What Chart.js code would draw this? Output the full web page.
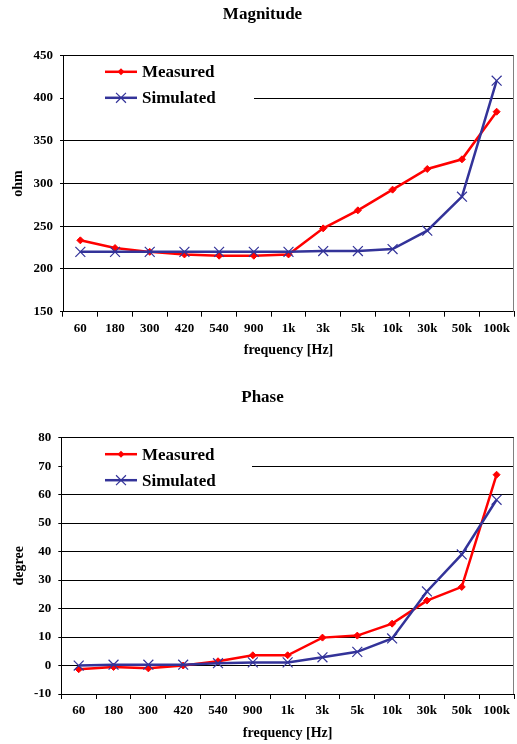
<!DOCTYPE html>
<html>
<head>
<meta charset="utf-8">
<script src="https://cdn.jsdelivr.net/npm/chart.js@4.4.0/dist/chart.umd.min.js"></script>
<style>
body{margin:0;background:#fff;}
canvas{display:block;}
</style>
</head>
<body>
<canvas id="modulo" width="517" height="372"></canvas>
<canvas id="fase" width="517" height="372"></canvas>
<script>
var frequenze=["60","180","300","420","540","900","1k","3k","5k","10k","30k","50k","100k"];
var moduloMisurato=[233.5,224.5,220,217,215.5,215.5,217,247.5,268.6,292.8,317,328.3,384];
var moduloSimulato=[220,220,220,220,220,220,220,221,221,223.3,244.8,284.6,420.3];
var faseMisurata=[-1.3,-0.5,-1,0,1.5,3.6,3.6,9.8,10.5,14.7,22.8,27.6,67];
var faseSimulata=[0,0.3,0.3,0.3,0.8,1.1,1.1,2.9,4.8,9.5,26,39,58.2];

var FONT="'Liberation Serif','Times New Roman',serif";
Chart.defaults.color="#000";

// legenda dentro l'area del grafico, con sfondo bianco che copre la griglia
var legendaInterna={
  id:"legendaInterna",
  beforeDatasetsDraw:function(chart,args,opz){
    var ctx=chart.ctx, a=chart.chartArea;
    ctx.save();
    ctx.fillStyle="#fff";
    ctx.fillRect(a.left+1,a.top+1,opz.fine-a.left-1,55);
    var ds=chart.data.datasets;
    for(var i=0;i<ds.length;i++){
      var y=a.top+16.5+i*26;
      var x=121;
      ctx.strokeStyle=ds[i].borderColor;
      ctx.lineWidth=2.5;
      ctx.beginPath();ctx.moveTo(105,y);ctx.lineTo(137,y);ctx.stroke();
      if(ds[i].pointStyle=="rectRot"){
        var r=ds[i].pointRadius;
        ctx.fillStyle=ds[i].backgroundColor;
        ctx.beginPath();
        ctx.moveTo(x,y-r);ctx.lineTo(x+r,y);ctx.lineTo(x,y+r);ctx.lineTo(x-r,y);
        ctx.closePath();ctx.fill();
      }else{
        var o=ds[i].pointRadius*0.707;
        ctx.lineWidth=ds[i].pointBorderWidth;
        ctx.beginPath();
        ctx.moveTo(x-o,y-o);ctx.lineTo(x+o,y+o);
        ctx.moveTo(x-o,y+o);ctx.lineTo(x+o,y-o);
        ctx.stroke();
      }
      ctx.fillStyle="#000";
      ctx.font="bold 17px "+FONT;
      ctx.textBaseline="middle";
      ctx.fillText(ds[i].label,142,y+1);
    }
    //bordo destro
    ctx.strokeStyle="#808080";
    ctx.lineWidth=1;
    ctx.beginPath();ctx.moveTo(a.right-0.5,a.top);ctx.lineTo(a.right-0.5,a.bottom);ctx.stroke();
    ctx.restore();
  }
};

function creaGrafico(id,titolo,asseY,misurati,simulati,min,max,passo,p){
  return new Chart(id,{
    type:"line",
    data:{
      labels:frequenze,
      datasets:[{
        label:"Measured",
        data:misurati,
        borderColor:"#FF0000",
        backgroundColor:"#FF0000",
        borderWidth:2.5,
        pointStyle:"rectRot",
        pointRadius:3.5,
        pointBorderWidth:1,
        order:1
      },{
        label:"Simulated",
        data:simulati,
        borderColor:"#333399",
        backgroundColor:"#333399",
        borderWidth:2.5,
        pointStyle:"crossRot",
        pointRadius:7,
        pointBorderWidth:1.2,
        order:0
      }]
    },
    plugins:[legendaInterna],
    options:{
      responsive:false,
      animation:false,
      devicePixelRatio:1,
      layout:{autoPadding:false,padding:{left:11,right:3,top:0,bottom:0}},
      plugins:{
        legend:{display:false},
        tooltip:{enabled:false},
        title:{
          display:true,
          text:titolo,
          color:"#000",
          font:{family:FONT,size:17,weight:"bold"},
          padding:{top:p.titoloSopra,bottom:p.titoloSotto}
        },
        legendaInterna:{fine:p.fineLegenda}
      },
      scales:{
        x:{
          offset:true,
          grid:{display:true,drawOnChartArea:false,offset:true,tickLength:5,color:"#000"},
          border:{color:"#000",width:1},
          ticks:{autoSkip:false,maxRotation:0,padding:4,font:{family:FONT,size:13,weight:"bold"}},
          title:{display:true,text:"frequency [Hz]",font:{family:FONT,size:14,weight:"bold"},padding:{top:0,bottom:p.xTitoloSotto}},
          afterFit:function(s){s.height=p.xAltezza;}
        },
        y:{
          min:min,
          max:max,
          grid:{color:"#000",tickLength:3},
          border:{color:"#000",width:1},
          ticks:{stepSize:passo,padding:7,font:{family:FONT,size:13,weight:"bold"}},
          title:{display:true,text:asseY,font:{family:FONT,size:14,weight:"bold",lineHeight:1},padding:{top:p.yTitoloSopra,bottom:0}},
          afterFit:function(s){s.width=p.yLarghezza;}
        }
      }
    }
  });
}

creaGrafico("modulo","Magnitude","ohm",moduloMisurato,moduloSimulato,150,450,50,
  {titoloSopra:4.8,titoloSotto:30.1,xAltezza:60.3,xTitoloSotto:13.6,yLarghezza:52,yTitoloSopra:0,fineLegenda:254});
creaGrafico("fase","Phase","degree",faseMisurata,faseSimulata,-10,80,10,
  {titoloSopra:15.8,titoloSotto:29.5,xAltezza:50,xTitoloSotto:2.3,yLarghezza:50.3,yTitoloSopra:1,fineLegenda:252});
</script>
</body>
</html>
